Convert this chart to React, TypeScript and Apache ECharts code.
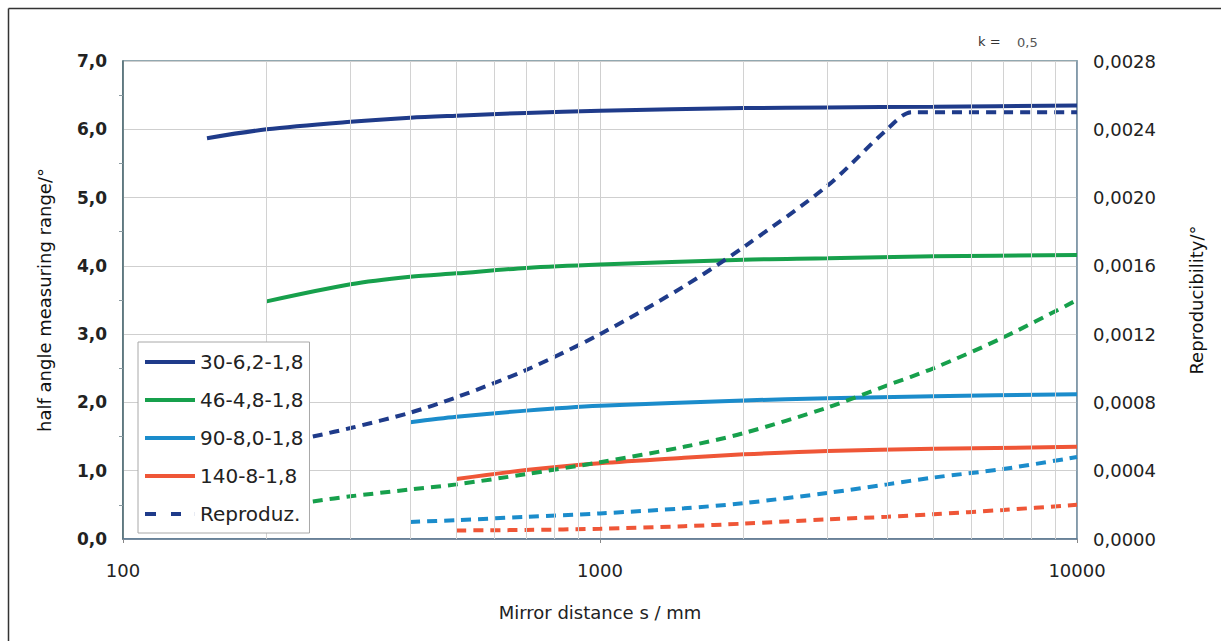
import React, { useEffect, useRef } from "react";
import * as echarts from "echarts";

// ---- data ----
const minorGridX = [200, 300, 400, 500, 600, 700, 800, 900, 2000, 3000, 4000, 5000, 6000, 7000, 8000, 9000];

const s1X = [150, 200, 300, 400, 500, 700, 1000, 2000, 3000, 5000, 10000];
const s1Y = [5.87, 6.0, 6.11, 6.17, 6.2, 6.24, 6.27, 6.31, 6.32, 6.33, 6.35];

const s2X = [200, 300, 400, 500, 700, 1000, 2000, 3000, 5000, 10000];
const s2Y = [3.48, 3.73, 3.84, 3.89, 3.97, 4.02, 4.09, 4.11, 4.14, 4.16];

const s3X = [400, 500, 700, 1000, 2000, 3000, 5000, 10000];
const s3Y = [1.71, 1.79, 1.88, 1.95, 2.03, 2.06, 2.09, 2.12];

const s4X = [500, 700, 1000, 1500, 2000, 3000, 5000, 10000];
const s4Y = [0.88, 1.01, 1.11, 1.19, 1.24, 1.29, 1.32, 1.35];

const r1X = [250, 300, 400, 500, 700, 1000, 1500, 2000, 3000, 4000, 4500, 10000];
const r1Y = [0.0006, 0.00065, 0.00074, 0.00083, 0.00099, 0.0012, 0.00148, 0.00171, 0.00207, 0.0024, 0.0025, 0.0025];

const r2X = [250, 300, 400, 500, 700, 1000, 1500, 2000, 3000, 4000, 5000, 7000, 10000];
const r2Y = [0.00022, 0.00025, 0.00029, 0.00032, 0.00038, 0.00045, 0.00054, 0.00062, 0.00077, 0.0009, 0.001, 0.00118, 0.0014];

const r3X = [400, 500, 700, 1000, 1500, 2000, 3000, 4000, 5000, 7000, 10000];
const r3Y = [0.0001, 0.00011, 0.00013, 0.00015, 0.00018, 0.00021, 0.00027, 0.00032, 0.00036, 0.00041, 0.00048];

const r4X = [500, 700, 1000, 1500, 2000, 3000, 4000, 5000, 7000, 10000];
const r4Y = [0.00005, 0.000053, 0.00006, 0.000075, 0.00009, 0.000115, 0.00013, 0.000145, 0.00017, 0.0002];

const legendNames = ["30-6,2-1,8", "46-4,8-1,8", "90-8,0-1,8", "140-8-1,8", "Reproduz."];
const colors = ["#1f3b8a", "#17a04c", "#1b8ccb", "#ef5637"];

const pairs = (xs: number[], ys: number[]) => xs.map((x, i) => [x, ys[i]]);

const FONT = "DejaVu Sans";
const DASH_ICON = "path://M0,0H11V4H0Z M26,0H36V4H26Z M49.9,0H50V4H49.9Z";

export default function App() {
  const ref = useRef<HTMLDivElement>(null);
  useEffect(() => {
    if (!ref.current) return;
    const chart = echarts.init(ref.current, null, { renderer: "svg" });
    const solid = (name: string, xs: number[], ys: number[], c: string) => ({
      name,
      type: "line",
      yAxisIndex: 0,
      data: pairs(xs, ys),
      symbol: "none",
      smooth: 0.3,
      lineStyle: { color: c, width: 4 },
      itemStyle: { color: c },
      z: 3,
    });
    const dashed = (name: string, xs: number[], ys: number[], c: string) => ({
      name,
      type: "line",
      yAxisIndex: 1,
      data: pairs(xs, ys),
      symbol: "none",
      smooth: 0.3,
      lineStyle: { color: c, width: 4, type: [10, 7] },
      itemStyle: { color: c },
      z: 3,
    });
    chart.setOption({
      animation: false,
      backgroundColor: "#ffffff",
      textStyle: { fontFamily: FONT },
      grid: {
        left: 123,
        right: 144,
        top: 61,
        bottom: 102,
        show: true,
        borderColor: "#6f8c96",
        borderWidth: 1.5,
      },
      legend: {
        data: [
          { name: legendNames[0], icon: "rect" },
          { name: legendNames[1], icon: "rect" },
          { name: legendNames[2], icon: "rect" },
          { name: legendNames[3], icon: "rect" },
          { name: legendNames[4], icon: DASH_ICON },
        ],
        orient: "vertical",
        left: 138,
        top: 342,
        padding: [8, 6, 7, 7],
        itemWidth: 50,
        itemHeight: 4,
        itemGap: 14,
        backgroundColor: "#ffffff",
        borderColor: "#a8a8a8",
        borderWidth: 1,
        textStyle: { fontFamily: FONT, fontSize: 20, color: "#222", lineHeight: 24 },
        z: 10,
      },
      xAxis: {
        type: "log",
        logBase: 10,
        min: 100,
        max: 10000,
        name: "Mirror distance s / mm",
        nameLocation: "middle",
        nameGap: 64,
        nameTextStyle: { fontFamily: FONT, fontSize: 18, color: "#222" },
        axisLine: { show: true, lineStyle: { color: "#5a7590", width: 1.5 } },
        axisTick: { show: true, length: 4, lineStyle: { color: "#888" } },
        axisLabel: {
          fontFamily: FONT,
          fontSize: 18,
          color: "#222",
          margin: 22,
          formatter: (v: number) => String(Math.round(v)),
        },
        splitLine: { show: true, lineStyle: { color: "#cfcfcf", width: 1 } },
      },
      yAxis: [
        {
          type: "value",
          min: 0,
          max: 7,
          interval: 1,
          position: "left",
          name: "half angle measuring range/°",
          nameLocation: "middle",
          nameRotate: 90,
          nameGap: 70,
          nameTextStyle: { fontFamily: FONT, fontSize: 18, color: "#111" },
          axisLine: { show: true, lineStyle: { color: "#4d6a72", width: 1.5 } },
          axisTick: { show: false },
          minorTick: { show: true, splitNumber: 2, length: 4, lineStyle: { color: "#8a9aa0" } },
          axisLabel: {
            fontFamily: FONT,
            fontSize: 17,
            fontWeight: "bold",
            color: "#222",
            margin: 16,
            formatter: (v: number) => v.toFixed(1).replace(".", ","),
          },
          splitLine: { show: true, lineStyle: { color: "#cfcfcf", width: 1 } },
        },
        {
          type: "value",
          min: 0,
          max: 0.0028,
          interval: 0.0004,
          position: "right",
          name: "Reproducibility/°",
          nameLocation: "middle",
          nameRotate: 90,
          nameGap: 110,
          nameTextStyle: { fontFamily: FONT, fontSize: 18, color: "#111" },
          axisLine: { show: true, lineStyle: { color: "#7d96a8", width: 1.5 } },
          axisTick: { show: false },
          axisLabel: {
            fontFamily: FONT,
            fontSize: 18,
            color: "#222",
            margin: 16,
            formatter: (v: number) => v.toFixed(4).replace(".", ","),
          },
          splitLine: { show: false },
        },
      ],
      graphic: [
        { type: "line", shape: { x1: 8.5, y1: 8.5, x2: 1221, y2: 8.5 }, style: { stroke: "#333", lineWidth: 1.5 } },
        { type: "line", shape: { x1: 8.5, y1: 8.5, x2: 8.5, y2: 641 }, style: { stroke: "#333", lineWidth: 1.5 } },
        { type: "text", left: 978, top: 35, style: { text: "k =", fontFamily: FONT, fontSize: 13, fill: "#333" } },
        { type: "text", left: 1017, top: 36, style: { text: "0,5", fontFamily: FONT, fontSize: 13, fill: "#555" } },
      ],
      series: [
        {
          name: "grid-minor",
          type: "line",
          data: [],
          symbol: "none",
          z: 1,
          silent: true,
          markLine: {
            silent: true,
            symbol: ["none", "none"],
            label: { show: false },
            lineStyle: { color: "#d2d2d2", width: 1, type: "solid" },
            data: minorGridX.map((v) => ({ xAxis: v })),
          },
        },
        solid(legendNames[0], s1X, s1Y, colors[0]),
        solid(legendNames[1], s2X, s2Y, colors[1]),
        solid(legendNames[2], s3X, s3Y, colors[2]),
        solid(legendNames[3], s4X, s4Y, colors[3]),
        dashed(legendNames[4], r1X, r1Y, colors[0]),
        dashed("Reproduz. 46", r2X, r2Y, colors[1]),
        dashed("Reproduz. 90", r3X, r3Y, colors[2]),
        dashed("Reproduz. 140", r4X, r4Y, colors[3]),
      ],
    });
    return () => chart.dispose();
  }, []);
  return (
    <div
      ref={ref}
      style={{ position: "absolute", left: 0, top: 0, width: 1221, height: 641 }}
    />
  );
}
